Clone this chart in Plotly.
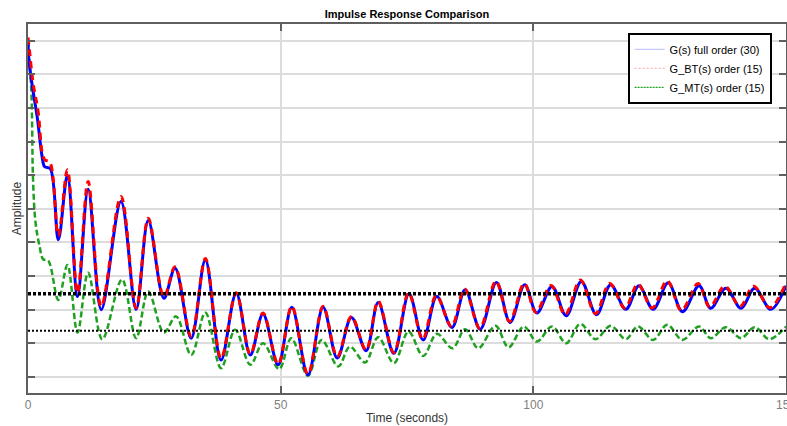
import plotly.graph_objects as go

# ---- data (time in seconds, amplitude in grid units) ----
t_full = [0, 0.2, 0.85, 1.85, 2.8, 3.3, 4.4, 6.0,
          7.8, 9.8, 11.9, 14.5, 18.4,
          21.4, 23.8, 26.9, 29.1, 32.3, 35.1, 38.2, 41.2, 44.0, 46.5,
          49.5, 52.2, 55.4, 58.4, 61.2, 64.0, 66.9, 69.3, 72.4,
          75.4, 78.2, 80.9, 83.9, 86.5, 89.5, 92.7, 95.4, 98.3,
          100.7, 103.7, 106.5, 109.5, 112.5, 115.3, 118.3, 120.9, 123.7, 126.7,
          129.5, 132.8, 135.1, 138.1, 141.1, 143.8, 147.0, 150]
y_full = [10.0, 9.4, 8.65, 7.7, 6.55, 6.25, 6.2, 4.08,
          6.0, 2.39, 5.58, 2.0, 5.22,
          2.01, 4.65, 2.34, 3.23, 1.15, 3.48, 0.5, 2.49, 0.65, 1.87,
          0.36, 2.07, 0.06, 2.07, 0.56, 1.77, 0.78, 2.21, 0.70,
          2.47, 1.1, 2.39, 1.47, 2.59, 1.42, 2.81, 1.62, 2.74,
          1.9, 2.69, 1.82, 2.84, 1.85, 2.74, 2.01, 2.71, 2.01, 2.8,
          1.94, 2.71, 2.04, 2.64, 2.04, 2.64, 2.01, 2.71]

t_bt = [0, 0.3, 1.0, 2.0, 2.9, 3.4, 4.3, 6.0,
        7.8, 9.8, 11.9, 14.5, 18.4,
        21.4, 23.8, 26.9, 29.1, 32.3, 35.1, 38.2, 41.2, 44.0, 46.5,
        49.5, 52.2, 55.4, 58.4, 61.2, 64.0, 66.9, 69.3, 72.4,
        75.3, 78.1, 80.8, 83.8, 86.4, 89.4, 92.6, 95.3, 98.2,
        100.5, 103.5, 106.3, 109.3, 112.3, 115.1, 118.1, 120.7, 123.5, 126.5,
        129.3, 132.6, 134.9, 137.9, 140.9, 143.6, 146.8, 150]
y_bt = [10.1, 9.7, 8.75, 7.9, 6.6, 6.45, 6.4, 4.2,
        6.16, 2.5, 5.81, 2.1, 5.37,
        2.05, 4.72, 2.38, 3.28, 1.2, 3.52, 0.55, 2.5, 0.68, 1.9,
        0.38, 2.1, 0.08, 2.1, 0.6, 1.8, 0.8, 2.25, 0.72,
        2.5, 1.12, 2.42, 1.5, 2.62, 1.45, 2.85, 1.65, 2.78,
        1.92, 2.72, 1.85, 2.88, 1.88, 2.78, 2.05, 2.76, 2.05, 2.86,
        1.98, 2.78, 2.08, 2.7, 2.1, 2.7, 2.06, 2.8]

t_mt = [0, 0.3, 0.7, 1.0, 1.5, 2.3, 3.0, 4.0,
        6.0, 7.8, 9.8, 11.9, 14.7, 18.6,
        21.4, 23.8, 26.9, 29.3, 32.3, 35.1, 38.2, 41.0, 44.0, 46.5,
        49.7, 52.1, 55.4, 58.1, 61.4, 63.7, 66.7, 69.3, 72.4,
        75.3, 78.2, 80.9, 84.0, 86.5, 89.1, 92.5, 95.1, 98.1,
        100.7, 103.7, 106.5, 109.3, 112.3, 115.3, 118.3, 120.7, 123.7, 126.5,
        129.5, 132.8, 135.1, 138.1, 141.1, 143.8, 146.7, 150]
y_mt = [10.0, 9.4, 8.34, 5.86, 4.58, 3.88, 3.5, 3.46,
        2.29, 3.33, 1.32, 3.1, 1.12, 2.9,
        1.15, 2.54, 1.32, 1.8, 0.65, 1.91, 0.26, 1.4, 0.36, 1.0,
        0.23, 1.15, 0.03, 1.1, 0.31, 0.9, 0.43, 1.18, 0.41,
        1.35, 0.62, 1.28, 0.85, 1.42, 0.85, 1.52, 0.88, 1.5,
        1.05, 1.5, 1.0, 1.58, 1.12, 1.52, 1.12, 1.5, 1.1, 1.55,
        1.1, 1.5, 1.15, 1.48, 1.15, 1.48, 1.12, 1.5]

level_x = [0, 150]
level_upper = 2.47
level_lower = 1.37

legend_names = ["G(s) full order (30)", "G_BT(s) order (15)", "G_MT(s) order (15)"]
x_ticks = [0, 50, 100, 150]

FONT = "Liberation Sans, Arial, Helvetica, sans-serif"
AX = "#5f5f5f"
GRID = "#dcdcdc"

fig = go.Figure()

fig.add_trace(go.Scatter(x=t_mt, y=y_mt, mode="lines", showlegend=False,
                         line=dict(color="#1fa01f", width=2.5, dash="6px,3px",
                                   shape="spline", smoothing=1.0)))
fig.add_trace(go.Scatter(x=t_full, y=y_full, mode="lines", showlegend=False,
                         line=dict(color="#0000ff", width=3,
                                   shape="spline", smoothing=1.0)))
fig.add_trace(go.Scatter(x=t_bt, y=y_bt, mode="lines", showlegend=False,
                         line=dict(color="#ff0000", width=3, dash="7px,5px",
                                   shape="spline", smoothing=1.0)))
fig.add_trace(go.Scatter(x=level_x, y=[level_upper, level_upper], mode="lines",
                         showlegend=False,
                         line=dict(color="black", width=3.5, dash="3px,2px")))
fig.add_trace(go.Scatter(x=level_x, y=[level_lower, level_lower], mode="lines",
                         showlegend=False,
                         line=dict(color="black", width=2, dash="2px,2px")))

# legend-only entries (faint samples as in the reference legend)
legend_styles = [dict(color="#c8c8ff", width=1.2),
                 dict(color="#ffb0b0", width=1.2, dash="2px,2px"),
                 dict(color="#1fa01f", width=1.2, dash="2px,1px")]
for name, st in zip(legend_names, legend_styles):
    fig.add_trace(go.Scatter(x=[None], y=[None], mode="lines", name=name, line=st))

axis_common = dict(
    showline=True, linecolor=AX, linewidth=2, mirror="allticks",
    ticks="inside", ticklen=7, tickwidth=2, tickcolor=AX,
    showgrid=True, gridcolor=GRID, gridwidth=1.5, zeroline=False,
)

fig.update_layout(
    width=787, height=426, autosize=False,
    margin=dict(l=28, r=1, t=24, b=33),
    paper_bgcolor="white", plot_bgcolor="white",
    font=dict(family=FONT, size=12, color="#222222"),
    title=dict(text="<b>Impulse Response Comparison</b>",
               font=dict(family=FONT, size=11, color="black"),
               x=0.5, xref="paper", xanchor="center",
               y=1 - 14 / 426, yref="container", yanchor="middle"),
    xaxis=dict(range=[0, 150], tickvals=x_ticks,
               tickfont=dict(size=12, color="#808080"),
               ticklabeloverflow="allow",
               title=dict(text="Time (seconds)", standoff=2,
                          font=dict(size=12, color="#333333")),
               automargin=False, **axis_common),
    yaxis=dict(range=[-0.48, 10.5], tick0=0, dtick=1, showticklabels=False,
               title=dict(text="Amplitude", standoff=2,
                          font=dict(size=12, color="#333333")),
               automargin=False, **axis_common),
    legend=dict(x=0.981, y=0.976, xanchor="right", yanchor="top",
                bgcolor="white", bordercolor="black", borderwidth=2,
                font=dict(family=FONT, size=11, color="black"),
                tracegroupgap=0, itemwidth=30),
)

fig.write_html("out.html")
